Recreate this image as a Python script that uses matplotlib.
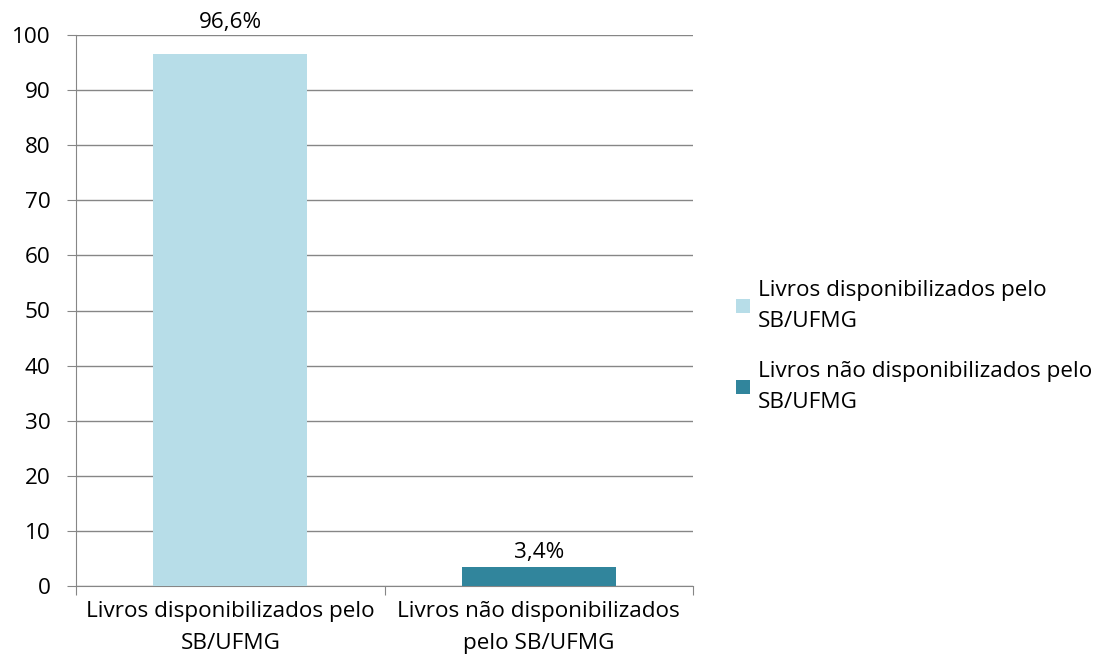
import matplotlib.pyplot as plt
import numpy as np

categories = ['Livros disponibilizados pelo\nSB/UFMG', 'Livros não disponibilizados\npelo SB/UFMG']
series_names = ['Livros disponibilizados pelo\nSB/UFMG', 'Livros não disponibilizados pelo\nSB/UFMG']
values = [96.6, 3.4]
labels = ['96,6%', '3,4%']
colors = ['#B7DDE8', '#31859C']

plt.rcParams['font.family'] = ['Open Sans', 'DejaVu Sans']
fs = 16.2

fig = plt.figure(figsize=(11.02, 6.65), dpi=100)
ax = fig.add_axes([76 / 1102, 1 - 586 / 665, (693 - 76) / 1102, (586 - 35) / 665])

x = np.arange(len(categories))
label_offsets = [15, 3]  # points above bar top, as placed in the original
bars = []
for i in range(len(categories)):
    b = ax.bar(x[i], values[i], width=0.5, color=colors[i], label=series_names[i], zorder=3)
    bars.append(b)
    ax.annotate(labels[i], (x[i], values[i]), xytext=(0, label_offsets[i]), textcoords='offset points',
                ha='center', va='bottom', fontsize=fs, color='#000000')

ax.set_xlim(-0.5, 1.5)
ax.set_ylim(0, 100)
ax.set_yticks(range(0, 101, 10))
ax.yaxis.grid(True, color='#868686', linewidth=1, zorder=0)
ax.set_axisbelow(True)
ax.tick_params(axis='y', length=6.5, color='#868686', labelsize=fs, pad=12)

ax.set_xticks([-0.5, 0.5, 1.5])
ax.set_xticklabels([])
ax.set_xticks(x, minor=True)
ax.set_xticklabels(categories, minor=True, fontsize=fs, linespacing=1.65)
ax.tick_params(axis='x', which='major', length=6.5, color='#868686')
ax.tick_params(axis='x', which='minor', length=0, pad=11)

for s in ['top', 'right']:
    ax.spines[s].set_visible(False)
ax.spines['left'].set_color('#868686')
ax.spines['bottom'].set_color('#868686')

leg = fig.legend(handles=[b[0] for b in bars], labels=series_names, loc='upper left',
                 bbox_to_anchor=(716 / 1102, 1 - 260 / 665), frameon=False, fontsize=fs,
                 handlelength=0.6, handleheight=0.6, handletextpad=0.35, labelspacing=1.3)
for t in leg.get_texts():
    t.set_linespacing(1.6)

fig.savefig('out.png', dpi=100)
